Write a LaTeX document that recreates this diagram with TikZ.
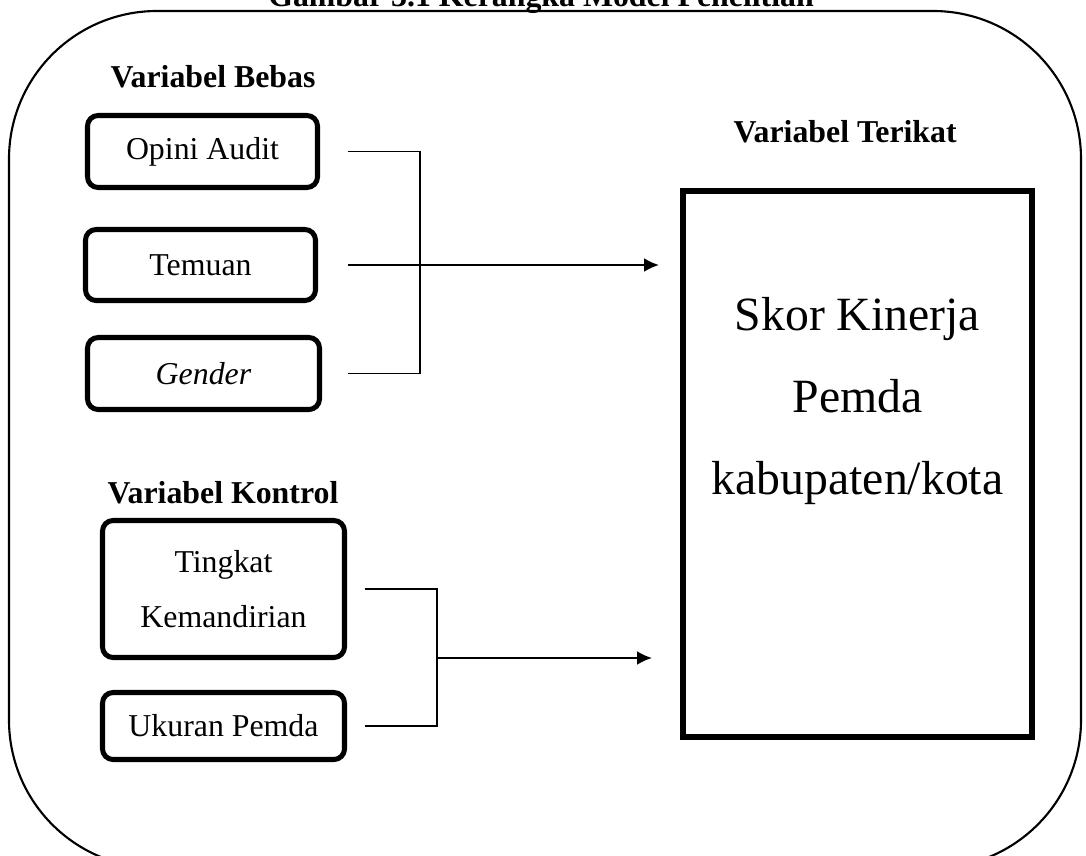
\documentclass[12pt,tikz,border=0pt]{standalone}
\usepackage{fontspec}
\setmainfont{Liberation Serif}
\usetikzlibrary{arrows.meta}
\newcommand\pxu{0.377pt}

\begin{document}
\begin{tikzpicture}[x=0.377pt,y=-0.377pt,
    varbox/.style={draw, line width=1.9pt, rounded corners=4pt, inner sep=0pt, font=\fontsize{12}{14}\selectfont},
    heading/.style={font=\fontsize{12}{14}\selectfont\bfseries, anchor=base west, inner sep=0pt},
    link/.style={line width=0.7pt},
    tip/.style={-{Latex[length=5.6pt,width=5.2pt]}}]
    \useasboundingbox (0,0) rectangle (1086,855);
    % outer frame
    \draw[line width=0.8pt, rounded corners=148*\pxu] (9,11) rectangle (1081,868);
    \node[font=\fontsize{12}{14}\selectfont\bfseries, anchor=base, inner sep=0pt] (title) at (541,6) {Gambar  3.1 Kerangka Model Penelitian};

    \node[heading] (bebas) at (110,87) {Variabel Bebas};
    \node[heading] (terikat) at (733,142) {Variabel Terikat};
    \node[heading] (kontrol) at (107,503) {Variabel Kontrol};

    \node[varbox, minimum width=230*\pxu, minimum height=72*\pxu] (opini) at (202.5,151.5) {Opini Audit};
    \node[varbox, minimum width=230*\pxu, minimum height=71*\pxu] (temuan) at (200.5,265) {Temuan};
    \node[varbox, minimum width=232*\pxu, minimum height=72*\pxu] (gender) at (203.5,373.5) {\textit{Gender}};
    \node[varbox, minimum width=242*\pxu, minimum height=137*\pxu, align=center,
        font=\fontsize{12}{21}\selectfont] (tingkat) at (223.5,589) {Tingkat\\Kemandirian};
    \node[varbox, minimum width=242*\pxu, minimum height=67*\pxu] (ukuran) at (223.5,726) {Ukuran Pemda};

    \node[draw, line width=2.3pt, minimum width=349*\pxu, minimum height=546*\pxu] (skor) at (857.5,464) {};
    \node[font=\fontsize{18}{30.9}\selectfont, align=center, anchor=north, inner sep=0pt]
        (skortext) at (857.5,297) {Skor Kinerja\\Pemda\\kabupaten/kota};

    % connectors
    \coordinate (jb) at (420,266);
    \coordinate (jk) at (437,658);
    \draw[link] ([xshift=27.5*\pxu]opini.east) -| (jb);
    \draw[link] ([xshift=25.5*\pxu]gender.east) -| (jb);
    \draw[link, tip, shorten >=21*\pxu] ([xshift=29.5*\pxu]temuan.east) -- (temuan.east -| skor.west);
    \draw[link] ([xshift=17.5*\pxu]tingkat.east) -| (jk);
    \draw[link] ([xshift=17.5*\pxu]ukuran.east) -| (jk);
    \draw[link, tip, shorten >=28*\pxu] (jk) -- (jk -| skor.west);
\end{tikzpicture}
\end{document}
